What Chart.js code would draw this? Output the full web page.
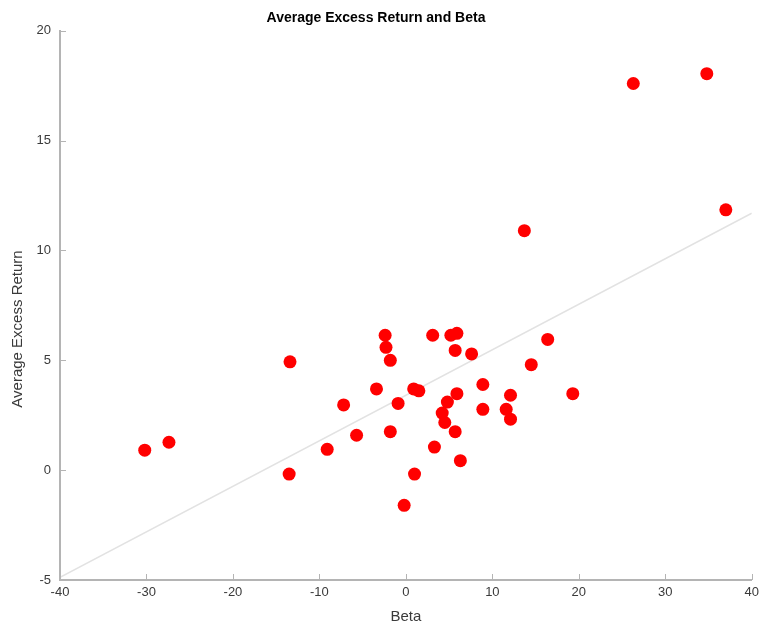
<!DOCTYPE html>
<html>
<head>
<meta charset="utf-8">
<script src="https://cdn.jsdelivr.net/npm/chart.js@4"></script>
<style>
  html, body { margin: 0; padding: 0; background: #fff; }
  #wrap { width: 764px; height: 626px; }
</style>
</head>
<body>
<div id="wrap"><canvas id="betaChart"></canvas></div>
<script>
// data
const betas = [-30.2, -27.4, -13.5, -13.4, -9.1, -7.2, -5.7, -3.4, -2.4, -2.3, -1.8, -1.8, -0.9, -0.2,
    0.9, 1.0, 1.5, 3.1, 3.3, 4.2, 4.5, 4.8, 5.2, 5.9, 5.7, 5.9, 5.7, 6.3, 7.6, 8.9, 8.9, 11.6, 12.1, 12.1,
    13.7, 14.5, 16.4, 19.3, 26.3, 34.8, 37.0];
const returns = [0.91, 1.27, -0.18, 4.93, 0.95, 2.97, 1.59, 3.7, 6.14, 5.59, 5.0, 1.75, 3.04, -1.6,
    3.7, -0.18, 3.61, 6.14, 1.05, 2.6, 2.17, 3.1, 6.14, 6.23, 5.45, 3.48, 1.75, 0.43, 5.29, 3.9, 2.77, 2.77, 3.41, 2.32,
    10.9, 4.8, 5.95, 3.48, 17.6, 18.05, 11.85];
const fitX = [-40, 40];
const fitY = [-4.88, 11.7];
const xTicks = [-40, -30, -20, -10, 0, 10, 20, 30, 40];
const yTicks = [-5, 0, 5, 10, 15, 20];

const textColor = "#3a3a3a";
const axisColor = "#b4b4b4";
const fontFamily = "'Liberation Sans', Arial, sans-serif";

// small inward tick marks + y title placed like the original
const axisExtras = {
    id: "axisExtras",
    afterDraw(chart) {
        const ctx = chart.ctx;
        const area = chart.chartArea;
        const xs = chart.scales.x, ys = chart.scales.y;
        ctx.save();
        ctx.strokeStyle = axisColor;
        ctx.lineWidth = 1;
        xTicks.forEach(function (v) {
            const px = Math.round(xs.getPixelForValue(v)) + 0.5;
            ctx.beginPath();
            ctx.moveTo(px, area.bottom);
            ctx.lineTo(px, area.bottom - 6);
            ctx.stroke();
        });
        yTicks.forEach(function (v) {
            const py = Math.round(ys.getPixelForValue(v)) + 0.5;
            ctx.beginPath();
            ctx.moveTo(area.left, py);
            ctx.lineTo(area.left + 6, py);
            ctx.stroke();
        });

        ctx.translate(18, 329);
        ctx.rotate(-Math.PI / 2);
        ctx.fillStyle = textColor;
        ctx.font = "15px " + fontFamily;
        ctx.textAlign = "center";
        ctx.textBaseline = "middle";
        ctx.fillText("Average Excess Return", 0, 0);
        ctx.restore();
    }
};

const canvas = document.getElementById("betaChart");

new Chart(canvas, {
    type: "scatter",
    data: {
        datasets: [{
            label: "Fit",
            type: "line",
            data: fitX.map(function (x, i) { return { x: x, y: fitY[i] }; }),
            borderColor: "#e2e2e2",
            borderWidth: 1.6,
            pointRadius: 0,
            order: 2
        }, {
            label: "Portfolios",
            data: betas.map(function (b, i) { return { x: b, y: returns[i] }; }),
            backgroundColor: "#ff0000",
            borderColor: "#ff0000",
            borderWidth: 0,
            pointRadius: 6.5,
            order: 1
        }]
    },
    options: {
        responsive: true,
        maintainAspectRatio: false,
        animation: false,
        layout: { padding: { left: 0, right: 12, top: 0, bottom: 0 } },
        plugins: {
            legend: { display: false },
            tooltip: { enabled: false },
            title: {
                display: true,
                text: "Average Excess Return and Beta",
                color: "#000",
                font: { family: fontFamily, size: 14, weight: "bold" },
                padding: { top: 10, bottom: 4 }
            }
        },
        scales: {
            x: {
                type: "linear",
                min: -40,
                max: 40,
                afterFit: function (s) { s.height = 46; },
                afterBuildTicks: function (s) { s.ticks = xTicks.map(function (v) { return { value: v }; }); },
                grid: { display: true, drawOnChartArea: false, drawTicks: false },
                border: { color: axisColor, width: 2 },
                ticks: { color: textColor, font: { family: fontFamily, size: 13 }, padding: 5 },
                title: {
                    display: true,
                    text: "Beta",
                    color: textColor,
                    font: { family: fontFamily, size: 15 },
                    padding: { top: 2, bottom: 0 }
                }
            },
            y: {
                type: "linear",
                min: -5,
                max: 20,
                afterFit: function (s) { s.width = 60; },
                afterBuildTicks: function (s) { s.ticks = yTicks.map(function (v) { return { value: v }; }); },
                grid: { display: true, drawOnChartArea: false, drawTicks: false },
                border: { color: axisColor, width: 2 },
                ticks: { color: textColor, font: { family: fontFamily, size: 13 }, padding: 9 }
            }
        }
    },
    plugins: [axisExtras]
});
</script>
</body>
</html>
